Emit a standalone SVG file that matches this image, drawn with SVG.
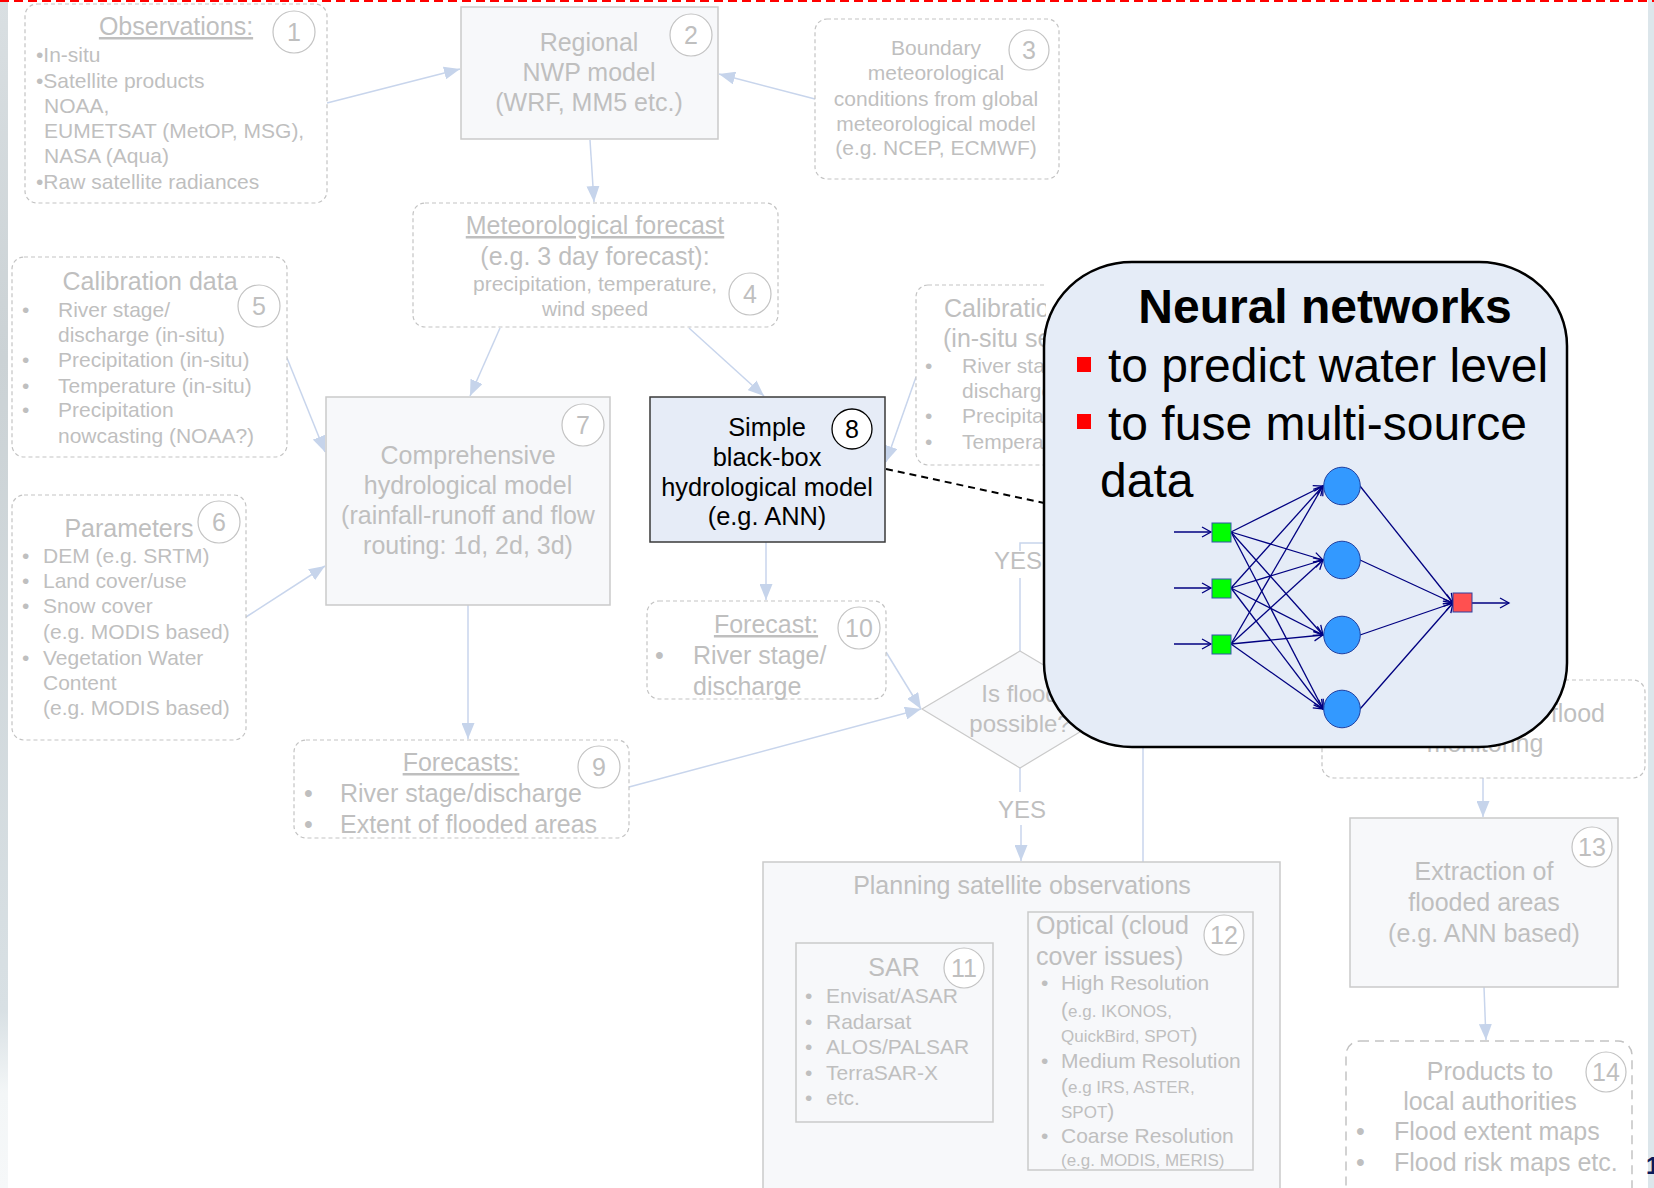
<svg xmlns="http://www.w3.org/2000/svg" width="1654" height="1188" viewBox="0 0 1654 1188">
<defs>
<style>
text{font-family:"Liberation Sans",Arial,sans-serif;}
.g{fill:#BFBFBF;}
.k{fill:#000000;}
.f25{font-size:25px;}
.f24{font-size:24px;}
.f21{font-size:21px;}
.f17{font-size:17px;}
.m{text-anchor:middle;}
.u{text-decoration:underline;}
.dbox{fill:#FFFFFF;stroke:#C3C3C3;stroke-width:1.2;stroke-dasharray:4 3;}
.sbox{fill:#F7F8FA;stroke:#CACACA;stroke-width:1.5;}
.num{fill:#FFFFFF;stroke:#C3C3C3;stroke-width:1.2;}
.conn{fill:none;stroke:#C8D5EC;stroke-width:1.5;}
.nn{fill:none;stroke:#000080;stroke-width:1.3;}
.big{font-size:48px;fill:#000000;}
</style>
<linearGradient id="leftStrip" x1="0" y1="0" x2="0" y2="1">
<stop offset="0" stop-color="#D9DFE2"/>
<stop offset="0.3" stop-color="#CBD2D5"/>
<stop offset="0.85" stop-color="#D8E0E4"/>
<stop offset="0.92" stop-color="#F3F6F7"/>
<stop offset="1" stop-color="#F6F8F9"/>
</linearGradient>
<clipPath id="underCallout"><rect x="0" y="0" width="1046" height="1188"/></clipPath>
<clipPath id="rightOfCallout"><rect x="1046" y="0" width="608" height="1188"/></clipPath>
<marker id="arr" markerUnits="userSpaceOnUse" markerWidth="17" markerHeight="13" refX="16" refY="6.5" orient="auto"><path d="M0,0 L16,6.5 L0,13 Z" fill="#C6D4EB"/></marker>
<marker id="nnarr" markerUnits="userSpaceOnUse" markerWidth="12" markerHeight="12" refX="10" refY="6" orient="auto"><path d="M1,1 L10,6 L1,11" fill="none" stroke="#000080" stroke-width="1.3"/></marker>
</defs>

<!-- page background and slide edges -->
<rect x="0" y="0" width="1654" height="1188" fill="#FFFFFF"/>
<rect x="0" y="0" width="8" height="1188" fill="url(#leftStrip)"/>
<rect x="1648" y="0" width="6" height="1188" fill="#DCE6EB"/>
<line x1="0" y1="1" x2="1654" y2="1" stroke="#FF0000" stroke-width="2" stroke-dasharray="9 5"/>
<text x="1646" y="1174" font-size="24" font-weight="bold" fill="#0A1A5C">1</text>

<!-- connectors -->
<g id="connectors">
<path class="conn" d="M327,103 L460,69" marker-end="url(#arr)"/>
<path class="conn" d="M815,99 L719,74" marker-end="url(#arr)"/>
<path class="conn" d="M590,140 L594,202" marker-end="url(#arr)"/>
<path class="conn" d="M500,328 L470,396" marker-end="url(#arr)"/>
<path class="conn" d="M689,328 L764,396" marker-end="url(#arr)"/>
<path class="conn" d="M287,358 L325,452" marker-end="url(#arr)"/>
<path class="conn" d="M246,617 L325,566" marker-end="url(#arr)"/>
<path class="conn" d="M468,605 L468,739" marker-end="url(#arr)"/>
<path class="conn" d="M766,542 L766,600" marker-end="url(#arr)"/>
<path class="conn" d="M886,652 L921,709" marker-end="url(#arr)"/>
<path class="conn" d="M629,787 L921,709" marker-end="url(#arr)"/>
<path class="conn" d="M916,377 L886,462" marker-end="url(#arr)"/>
<path class="conn" d="M1020,651 V578"/>
<path class="conn" d="M1020,551 V543 H1250 V690"/>
<path class="conn" d="M1020,768 V792"/>
<path class="conn" d="M1021,825 V861" marker-end="url(#arr)"/>
<path class="conn" d="M1143,700 V862"/>
<path class="conn" d="M1483,778 V817" marker-end="url(#arr)"/>
<path class="conn" d="M1484,987 L1486,1040" marker-end="url(#arr)"/>
<text class="g f24 m" x="1018" y="569">YES</text>
<text class="g f24 m" x="1022" y="818">YES</text>
<path d="M886,469 L1044,503" fill="none" stroke="#000000" stroke-width="2" stroke-dasharray="7 5"/>
</g>

<!-- 1: observations -->
<g id="n1">
<rect class="dbox" x="25" y="4" width="302" height="199" rx="12"/>
<text class="g f25 m u" x="176" y="35">Observations:</text>
<circle class="num" cx="294" cy="32" r="21"/>
<text class="g f25 m" x="294" y="41">1</text>
<text class="g f21" x="36" y="62">•In-situ</text>
<text class="g f21" x="36" y="88">•Satellite products</text>
<text class="g f21" x="44" y="113">NOAA,</text>
<text class="g f21" x="44" y="138">EUMETSAT (MetOP, MSG),</text>
<text class="g f21" x="44" y="163">NASA (Aqua)</text>
<text class="g f21" x="36" y="189">•Raw satellite radiances</text>
</g>

<!-- 2: regional NWP model -->
<g id="n2">
<rect class="sbox" x="461" y="7" width="257" height="132"/>
<text class="g f25 m" x="589" y="51">Regional</text>
<text class="g f25 m" x="589" y="81">NWP model</text>
<text class="g f25 m" x="589" y="111">(WRF, MM5 etc.)</text>
<circle class="num" cx="691" cy="35" r="21"/>
<text class="g f25 m" x="691" y="44">2</text>
</g>

<!-- 3: boundary conditions -->
<g id="n3">
<rect class="dbox" x="815" y="19" width="244" height="160" rx="12"/>
<text class="g f21 m" x="936" y="55">Boundary</text>
<text class="g f21 m" x="936" y="80">meteorological</text>
<text class="g f21 m" x="936" y="106">conditions from global</text>
<text class="g f21 m" x="936" y="131">meteorological model</text>
<text class="g f21 m" x="936" y="155">(e.g. NCEP, ECMWF)</text>
<circle class="num" cx="1029" cy="50" r="20"/>
<text class="g f25 m" x="1029" y="59">3</text>
</g>

<!-- 4: meteorological forecast -->
<g id="n4">
<rect class="dbox" x="413" y="203" width="365" height="124" rx="12"/>
<text class="g f25 m u" x="595" y="234">Meteorological forecast</text>
<text class="g f25 m" x="595" y="265">(e.g. 3 day forecast):</text>
<text class="g f21 m" x="595" y="291">precipitation, temperature,</text>
<text class="g f21 m" x="595" y="316">wind speed</text>
<circle class="num" cx="750" cy="294" r="21"/>
<text class="g f25 m" x="750" y="303">4</text>
</g>

<!-- 5: calibration data -->
<g id="n5">
<rect class="dbox" x="12" y="257" width="275" height="200" rx="12"/>
<text class="g f25 m" x="150" y="290">Calibration data</text>
<circle class="num" cx="259" cy="306" r="21"/>
<text class="g f25 m" x="259" y="315">5</text>
<text class="g f21"><tspan x="22" y="317">•</tspan><tspan x="58" y="317">River stage/</tspan></text>
<text class="g f21" x="58" y="342">discharge (in-situ)</text>
<text class="g f21"><tspan x="22" y="367">•</tspan><tspan x="58" y="367">Precipitation (in-situ)</tspan></text>
<text class="g f21"><tspan x="22" y="393">•</tspan><tspan x="58" y="393">Temperature (in-situ)</tspan></text>
<text class="g f21"><tspan x="22" y="417">•</tspan><tspan x="58" y="417">Precipitation</tspan></text>
<text class="g f21" x="58" y="443">nowcasting (NOAA?)</text>
</g>

<!-- 6: parameters -->
<g id="n6">
<rect class="dbox" x="12" y="495" width="234" height="245" rx="12"/>
<text class="g f25 m" x="129" y="537">Parameters</text>
<circle class="num" cx="219" cy="522" r="21"/>
<text class="g f25 m" x="219" y="531">6</text>
<text class="g f21"><tspan x="22" y="563">•</tspan><tspan x="43" y="563">DEM (e.g. SRTM)</tspan></text>
<text class="g f21"><tspan x="22" y="588">•</tspan><tspan x="43" y="588">Land cover/use</tspan></text>
<text class="g f21"><tspan x="22" y="613">•</tspan><tspan x="43" y="613">Snow cover</tspan></text>
<text class="g f21" x="43" y="639">(e.g. MODIS based)</text>
<text class="g f21"><tspan x="22" y="665">•</tspan><tspan x="43" y="665">Vegetation Water</tspan></text>
<text class="g f21" x="43" y="690">Content</text>
<text class="g f21" x="43" y="715">(e.g. MODIS based)</text>
</g>

<!-- 7: comprehensive hydrological model -->
<g id="n7">
<rect class="sbox" x="326" y="397" width="284" height="208"/>
<text class="g f25 m" x="468" y="464">Comprehensive</text>
<text class="g f25 m" x="468" y="494">hydrological model</text>
<text class="g f25 m" x="468" y="524">(rainfall-runoff and flow</text>
<text class="g f25 m" x="468" y="554">routing: 1d, 2d, 3d)</text>
<circle class="num" cx="583" cy="425" r="21"/>
<text class="g f25 m" x="583" y="434">7</text>
</g>

<!-- 8: black-box model -->
<g id="n8">
<rect x="650" y="397" width="235" height="145" fill="#E6ECF7" stroke="#3A3A3A" stroke-width="1.5"/>
<text class="k m" font-size="25.4" x="767" y="436">Simple</text>
<text class="k m" font-size="25.4" x="767" y="466">black-box</text>
<text class="k m" font-size="25.4" x="767" y="496">hydrological model</text>
<text class="k m" font-size="25.4" x="767" y="525">(e.g. ANN)</text>
<circle cx="852" cy="429" r="20" fill="#FFFFFF" stroke="#000000" stroke-width="1.3"/>
<text class="k f25 m" x="852" y="438">8</text>
</g>

<!-- 9: forecasts from comprehensive model -->
<g id="n9">
<rect class="dbox" x="294" y="740" width="335" height="98" rx="12"/>
<text class="g f25 m u" x="461" y="771">Forecasts:</text>
<circle class="num" cx="599" cy="767" r="21"/>
<text class="g f25 m" x="599" y="776">9</text>
<text class="g f25"><tspan x="304" y="802">•</tspan><tspan x="340" y="802">River stage/discharge</tspan></text>
<text class="g f25"><tspan x="304" y="833">•</tspan><tspan x="340" y="833">Extent of flooded areas</tspan></text>
</g>

<!-- 10: forecast from black-box model -->
<g id="n10">
<rect class="dbox" x="647" y="601" width="239" height="98" rx="12"/>
<text class="g f25 m u" x="766" y="633">Forecast:</text>
<circle class="num" cx="859" cy="628" r="21"/>
<text class="g f25 m" x="859" y="637">10</text>
<text class="g f25"><tspan x="655" y="664">•</tspan><tspan x="693" y="664">River stage/</tspan></text>
<text class="g f25" x="693" y="695">discharge</text>
</g>

<!-- calibration data for the black-box model (partly behind the callout) -->
<g id="calib-insitu" clip-path="url(#underCallout)">
<rect class="dbox" x="916" y="285" width="200" height="180" rx="12"/>
<text class="g f25" x="944" y="317">Calibration data</text>
<text class="g f25" x="943" y="347">(in-situ sensors)</text>
<text class="g f21"><tspan x="925" y="373">•</tspan><tspan x="962" y="373">River stage/</tspan></text>
<text class="g f21" x="962" y="398">discharge (in-situ)</text>
<text class="g f21"><tspan x="925" y="423">•</tspan><tspan x="962" y="423">Precipitation (in-situ)</tspan></text>
<text class="g f21"><tspan x="925" y="449">•</tspan><tspan x="962" y="449">Temperature (in-situ)</tspan></text>
</g>

<!-- decision -->
<g id="decision">
<polygon points="1020,651 1118,709 1020,768 922,709" fill="#F7F8FA" stroke="#CACACA" stroke-width="1.2"/>
<text class="g f24 m" x="1020" y="702">Is flood</text>
<text class="g f24 m" x="1020" y="732">possible?</text>
</g>

<!-- flood monitoring (partly behind the callout) -->
<g id="monitoring">
<rect class="dbox" x="1322" y="680" width="323" height="98" rx="12"/>
<text class="g f25" x="1605" y="722" text-anchor="end">Satellite-based flood</text>
<text class="g f25 m" x="1485" y="752">monitoring</text>
</g>

<!-- planning satellite observations -->
<g id="planning">
<rect class="sbox" x="763" y="862" width="517" height="340"/>
<text class="g f25 m" x="1022" y="894">Planning satellite observations</text>
</g>

<!-- 11: SAR -->
<g id="n11">
<rect class="sbox" x="796" y="943" width="197" height="179"/>
<text class="g f25 m" x="894" y="976">SAR</text>
<circle class="num" cx="964" cy="968" r="20"/>
<text class="g f25 m" x="964" y="977">11</text>
<text class="g f21"><tspan x="805" y="1003">•</tspan><tspan x="826" y="1003">Envisat/ASAR</tspan></text>
<text class="g f21"><tspan x="805" y="1029">•</tspan><tspan x="826" y="1029">Radarsat</tspan></text>
<text class="g f21"><tspan x="805" y="1054">•</tspan><tspan x="826" y="1054">ALOS/PALSAR</tspan></text>
<text class="g f21"><tspan x="805" y="1080">•</tspan><tspan x="826" y="1080">TerraSAR-X</tspan></text>
<text class="g f21"><tspan x="805" y="1105">•</tspan><tspan x="826" y="1105">etc.</tspan></text>
</g>

<!-- 12: optical -->
<g id="n12">
<rect class="sbox" x="1028" y="912" width="225" height="258"/>
<text class="g f25" x="1036" y="934">Optical (cloud</text>
<text class="g f25" x="1036" y="965">cover issues)</text>
<circle class="num" cx="1224" cy="935" r="20"/>
<text class="g f25 m" x="1224" y="944">12</text>
<text class="g f21"><tspan x="1041" y="990">•</tspan><tspan x="1061" y="990">High Resolution</tspan></text>
<text class="g f17" x="1061" y="1017"><tspan font-size="21">(</tspan>e.g. IKONOS,</text>
<text class="g f17" x="1061" y="1042">QuickBird, SPOT<tspan font-size="21">)</tspan></text>
<text class="g f21"><tspan x="1041" y="1068">•</tspan><tspan x="1061" y="1068">Medium Resolution</tspan></text>
<text class="g f17" x="1061" y="1093"><tspan font-size="21">(</tspan>e.g IRS, ASTER,</text>
<text class="g f17" x="1061" y="1118">SPOT<tspan font-size="21">)</tspan></text>
<text class="g f21"><tspan x="1041" y="1143">•</tspan><tspan x="1061" y="1143">Coarse Resolution</tspan></text>
<text class="g f17" x="1061" y="1166">(e.g. MODIS, MERIS)</text>
</g>

<!-- 13: extraction of flooded areas -->
<g id="n13">
<rect class="sbox" x="1350" y="818" width="268" height="169"/>
<text class="g f25 m" x="1484" y="880">Extraction of</text>
<text class="g f25 m" x="1484" y="911">flooded areas</text>
<text class="g f25 m" x="1484" y="942">(e.g. ANN based)</text>
<circle class="num" cx="1592" cy="847" r="20"/>
<text class="g f25 m" x="1592" y="856">13</text>
</g>

<!-- 14: products -->
<g id="n14">
<rect x="1346" y="1041" width="286" height="170" rx="14" fill="#FFFFFF" stroke="#C3C3C3" stroke-width="1.5" stroke-dasharray="9 6"/>
<text class="g f25 m" x="1490" y="1080">Products to</text>
<text class="g f25 m" x="1490" y="1110">local authorities</text>
<circle class="num" cx="1606" cy="1072" r="20"/>
<text class="g f25 m" x="1606" y="1081">14</text>
<text class="g f25"><tspan x="1356" y="1140">•</tspan><tspan x="1394" y="1140">Flood extent maps</tspan></text>
<text class="g f25"><tspan x="1356" y="1171">•</tspan><tspan x="1394" y="1171">Flood risk maps etc.</tspan></text>
</g>

<!-- neural network callout -->
<g id="callout">
<rect x="1044" y="262" width="523" height="485" rx="88" ry="84" fill="#E5ECF7" stroke="#000000" stroke-width="2.5"/>
<text class="big m" x="1325" y="323" font-weight="bold">Neural networks</text>
<rect x="1077" y="357" width="14" height="15" fill="#FF0000"/>
<text class="big" x="1108" y="382">to predict water level</text>
<rect x="1077" y="414" width="14" height="15" fill="#FF0000"/>
<text class="big" x="1108" y="440">to fuse multi-source</text>
<text class="big" x="1100" y="497">data</text>
<g id="ann">
<path class="nn" d="M1174,532 H1211" marker-end="url(#nnarr)"/>
<path class="nn" d="M1174,588 H1211" marker-end="url(#nnarr)"/>
<path class="nn" d="M1174,644 H1211" marker-end="url(#nnarr)"/>
<path class="nn" d="M1231,532 L1323,486" marker-end="url(#nnarr)"/>
<path class="nn" d="M1231,532 L1323,560" marker-end="url(#nnarr)"/>
<path class="nn" d="M1231,532 L1323,635" marker-end="url(#nnarr)"/>
<path class="nn" d="M1231,532 L1323,709" marker-end="url(#nnarr)"/>
<path class="nn" d="M1231,588 L1323,486" marker-end="url(#nnarr)"/>
<path class="nn" d="M1231,588 L1323,560" marker-end="url(#nnarr)"/>
<path class="nn" d="M1231,588 L1323,635" marker-end="url(#nnarr)"/>
<path class="nn" d="M1231,588 L1323,709" marker-end="url(#nnarr)"/>
<path class="nn" d="M1231,644 L1323,486" marker-end="url(#nnarr)"/>
<path class="nn" d="M1231,644 L1323,560" marker-end="url(#nnarr)"/>
<path class="nn" d="M1231,644 L1323,635" marker-end="url(#nnarr)"/>
<path class="nn" d="M1231,644 L1323,709" marker-end="url(#nnarr)"/>
<path class="nn" d="M1360,486 L1453,603" marker-end="url(#nnarr)"/>
<path class="nn" d="M1360,560 L1453,603" marker-end="url(#nnarr)"/>
<path class="nn" d="M1360,635 L1453,603" marker-end="url(#nnarr)"/>
<path class="nn" d="M1360,709 L1453,603" marker-end="url(#nnarr)"/>
<path class="nn" d="M1472,603 H1509" marker-end="url(#nnarr)"/>
<rect x="1212" y="523" width="19" height="19" fill="#00FF00" stroke="#3355AA" stroke-width="1"/>
<rect x="1212" y="579" width="19" height="19" fill="#00FF00" stroke="#3355AA" stroke-width="1"/>
<rect x="1212" y="635" width="19" height="19" fill="#00FF00" stroke="#3355AA" stroke-width="1"/>
<ellipse cx="1342" cy="486" rx="18.3" ry="18.8" fill="#3399FF" stroke="#1F3FA0" stroke-width="1"/>
<ellipse cx="1342" cy="560" rx="18.3" ry="18.8" fill="#3399FF" stroke="#1F3FA0" stroke-width="1"/>
<ellipse cx="1342" cy="635" rx="18.3" ry="18.8" fill="#3399FF" stroke="#1F3FA0" stroke-width="1"/>
<ellipse cx="1342" cy="709" rx="18.3" ry="18.8" fill="#3399FF" stroke="#1F3FA0" stroke-width="1"/>
<rect x="1453" y="593" width="19" height="19" fill="#FF5050" stroke="#2F3F9F" stroke-width="1"/>
</g>
</g>
</svg>
